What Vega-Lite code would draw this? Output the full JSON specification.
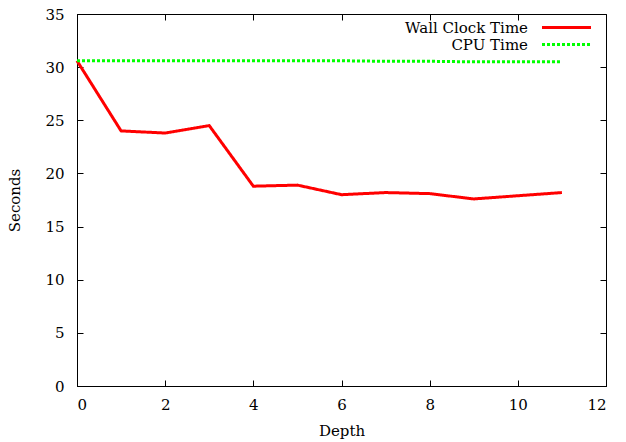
{
  "$schema": "https://vega.github.io/schema/vega-lite/v6.json",
  "width": 529,
  "height": 372,
  "autosize": {"type": "none"},
  "padding": {"left": 77, "top": 14, "right": 20, "bottom": 56},
  "background": "white",
  "config": {
    "view": {"stroke": "black", "strokeWidth": 1},
    "font": "DejaVu Serif",
    "axis": {
      "grid": false,
      "domainColor": "black",
      "tickColor": "black",
      "labelColor": "black",
      "titleColor": "black",
      "labelFont": "DejaVu Serif",
      "titleFont": "DejaVu Serif",
      "labelFontSize": 15,
      "titleFontSize": 15,
      "titleFontWeight": "normal",
      "tickSize": -6
    },
    "legend": {
      "labelFont": "DejaVu Serif",
      "labelFontSize": 15,
      "labelColor": "black"
    }
  },
  "datasets": {
    "wall": [
      {"depth": 0, "seconds": 30.6, "series": "Wall Clock Time"},
      {"depth": 1, "seconds": 24.0, "series": "Wall Clock Time"},
      {"depth": 2, "seconds": 23.8, "series": "Wall Clock Time"},
      {"depth": 3, "seconds": 24.5, "series": "Wall Clock Time"},
      {"depth": 4, "seconds": 18.8, "series": "Wall Clock Time"},
      {"depth": 5, "seconds": 18.9, "series": "Wall Clock Time"},
      {"depth": 6, "seconds": 18.0, "series": "Wall Clock Time"},
      {"depth": 7, "seconds": 18.2, "series": "Wall Clock Time"},
      {"depth": 8, "seconds": 18.1, "series": "Wall Clock Time"},
      {"depth": 9, "seconds": 17.6, "series": "Wall Clock Time"},
      {"depth": 10, "seconds": 17.9, "series": "Wall Clock Time"},
      {"depth": 11, "seconds": 18.2, "series": "Wall Clock Time"}
    ],
    "cpu": [
      {"depth": 0, "seconds": 30.6, "series": "CPU Time"},
      {"depth": 1, "seconds": 30.6, "series": "CPU Time"},
      {"depth": 2, "seconds": 30.6, "series": "CPU Time"},
      {"depth": 3, "seconds": 30.6, "series": "CPU Time"},
      {"depth": 4, "seconds": 30.6, "series": "CPU Time"},
      {"depth": 5, "seconds": 30.6, "series": "CPU Time"},
      {"depth": 6, "seconds": 30.6, "series": "CPU Time"},
      {"depth": 7, "seconds": 30.55, "series": "CPU Time"},
      {"depth": 8, "seconds": 30.55, "series": "CPU Time"},
      {"depth": 9, "seconds": 30.5, "series": "CPU Time"},
      {"depth": 10, "seconds": 30.5, "series": "CPU Time"},
      {"depth": 11, "seconds": 30.5, "series": "CPU Time"}
    ]
  },
  "layer": [
    {
      "data": {"name": "wall"},
      "mark": {"type": "line", "strokeWidth": 3, "strokeJoin": "miter"},
      "encoding": {
        "x": {
          "field": "depth", "type": "quantitative",
          "scale": {"domain": [0, 12], "nice": false},
          "axis": {"title": "Depth", "values": [0, 2, 4, 6, 8, 10, 12], "labelPadding": 17, "titlePadding": 11}
        },
        "y": {
          "field": "seconds", "type": "quantitative",
          "scale": {"domain": [0, 35], "nice": false},
          "axis": {"title": "Seconds", "values": [0, 5, 10, 15, 20, 25, 30, 35], "labelPadding": 19, "titlePadding": 22}
        },
        "color": {
          "field": "series", "type": "nominal",
          "scale": {"domain": ["Wall Clock Time", "CPU Time"], "range": ["#ff0000", "#00ff00"]},
          "legend": {
            "title": null,
            "orient": "none",
            "legendX": 482,
            "legendY": 6,
            "padding": 0,
            "symbolType": "M-5,0H5",
            "symbolSize": 96,
            "symbolStrokeWidth": 3,
            "labelAlign": "right",
            "labelOffset": -46,
            "rowPadding": 1,
            "symbolDash": [3, 2]
          }
        },
        "strokeDash": {
          "field": "series", "type": "nominal",
          "scale": {"domain": ["Wall Clock Time", "CPU Time"], "range": [[1, 0], [3, 2]]},
          "legend": null
        }
      }
    },
    {
      "data": {"name": "cpu"},
      "mark": {"type": "line", "strokeWidth": 3},
      "encoding": {
        "x": {
          "field": "depth", "type": "quantitative",
          "axis": {"orient": "top", "title": null, "labels": false, "domain": false, "values": [0, 2, 4, 6, 8, 10, 12]}
        },
        "y": {
          "field": "seconds", "type": "quantitative",
          "axis": {"orient": "right", "title": null, "labels": false, "domain": false, "values": [0, 5, 10, 15, 20, 25, 30, 35]}
        },
        "color": {"field": "series", "type": "nominal"},
        "strokeDash": {"field": "series", "type": "nominal", "legend": null}
      }
    }
  ],
  "resolve": {"axis": {"x": "independent", "y": "independent"}}
}
